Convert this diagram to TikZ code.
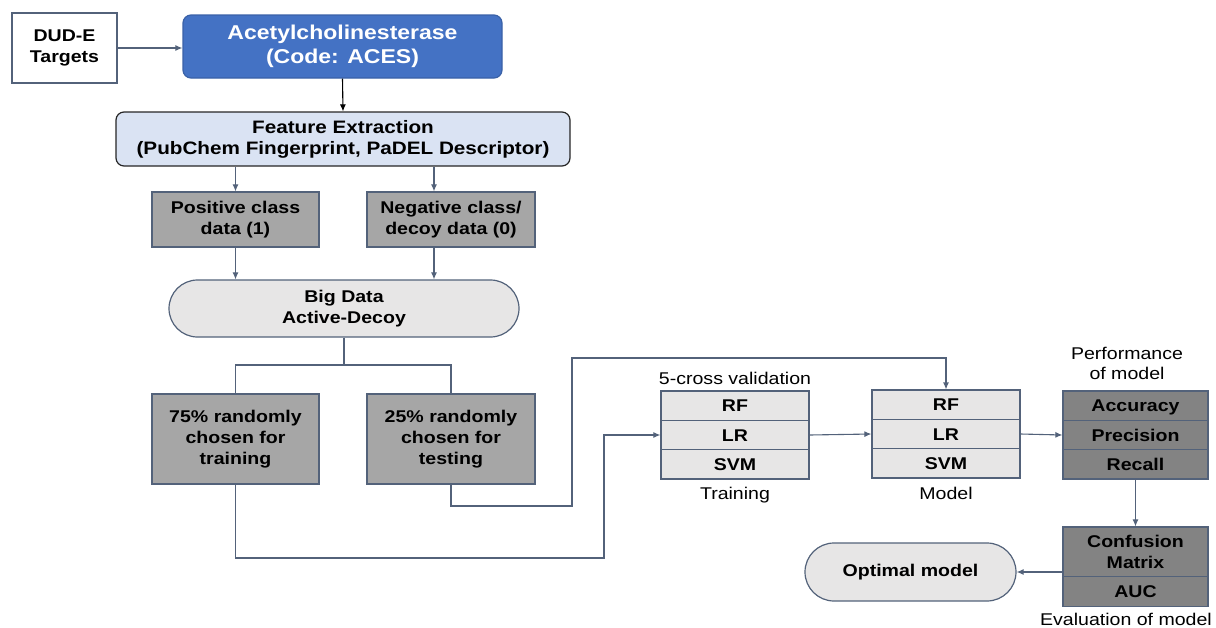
\documentclass[tikz,border=0pt]{standalone}
\usepackage{fontspec}
\setmainfont[FakeStretch=1.15]{Liberation Sans}
\usepackage{tikz}
\usetikzlibrary{arrows.meta}
\definecolor{edgeblue}{HTML}{53627A}
\definecolor{acesblue}{HTML}{4472C4}
\definecolor{featblue}{HTML}{DAE3F3}
\definecolor{midgray}{HTML}{A6A6A6}
\definecolor{darkgray2}{HTML}{838383}
\definecolor{palegray}{HTML}{E7E6E6}

\begin{document}
\begin{tikzpicture}[x=1pt, y=-1pt, line width=1.2pt,
  font=\fontsize{17}{21}\selectfont\bfseries,
  box/.style={draw=edgeblue, align=center, inner sep=0pt},
  graybox/.style={box, fill=midgray},
  rowbox/.style={box, fill=palegray, minimum width=148, minimum height=29.3,
                 text height=12.2pt, text depth=0pt},
  perfbox/.style={rowbox, fill=darkgray2, minimum width=145},
  lab/.style={font=\fontsize{17}{20}\selectfont\mdseries, align=center},
  link/.style={draw=edgeblue, line width=1.1pt},
  arr/.style={link, -{Latex[length=7pt,width=6pt]}}]

  \useasboundingbox (0,0) rectangle (1216,627);

  % left column: source, target, features, classes
  \node[box, fill=white, minimum width=105, minimum height=70] (dud) at (64.5,48) {DUD-E\\Targets};
  \node[box, draw=acesblue!85!black, fill=acesblue, text=white, rounded corners=8pt,
        minimum width=319, minimum height=63, font=\fontsize{20}{24}\selectfont\bfseries]
        (aces) at (342.5,46.5) {Acetylcholinesterase\\(Code: ACES)};
  \node[box, draw=black!85, fill=featblue, rounded corners=8pt, minimum width=454, minimum height=54,
        font=\fontsize{18}{21}\selectfont\bfseries]
        (feat) at (343,139) {Feature Extraction\\(PubChem Fingerprint, PaDEL Descriptor)};
  \node[graybox, minimum width=167, minimum height=55] (pos) at (235.5,219.5) {Positive class\\data (1)};
  \node[graybox, minimum width=168, minimum height=55] (neg) at (451,219.5) {Negative class/\\decoy data (0)};
  \node[box, fill=palegray, rounded corners=28.5pt, minimum width=350, minimum height=57]
        (big) at (344,308.5) {Big Data\\Active-Decoy};
  \node[graybox, minimum width=167, minimum height=90] (r75) at (235.5,439) {75\% randomly\\chosen for\\training};
  \node[graybox, minimum width=168, minimum height=90] (r25) at (451,439) {25\% randomly\\chosen for\\testing};

  % classifier stacks
  \foreach \nm/\yy in {RF/405.7, LR/435, SVM/464.3}{
    \node[rowbox] (tr\nm) at (735,\yy) {\nm};
    \node[rowbox] (md\nm) at (946,\yy-1) {\nm};
  }
  \foreach \nm/\lab/\yy in {Acc/Accuracy/405.7, Pre/Precision/435, Rec/Recall/464.3}{
    \node[perfbox] (pf\nm) at (1135.5,\yy) {\lab};
  }
  \node[box, fill=darkgray2, minimum width=145, minimum height=50] (evCM) at (1135.5,552) {Confusion\\Matrix};
  \node[perfbox] (evAUC) at (1135.5,591.5) {AUC};
  \node[box, fill=palegray, rounded corners=29pt, minimum width=211, minimum height=58]
        (opt) at (910.5,572) {Optimal model};

  \node[lab] (cvlab) at (735,378) {5-cross validation};
  \node[lab] (trlab) at (735,495) {Training};
  \node[lab] (mdlab) at (946,493) {Model};
  \node[lab] (pflab) at (1127,363) {Performance\\of model};
  \node[lab] (evlab) at (1126,619) {Evaluation of model};

  % connectors
  \draw[arr] (dud.east) -- (aces.west |- dud.east);
  \draw[arr, draw=black] (aces.south) -- (feat.north);
  \draw[arr] (pos.north |- feat.south) -- (pos.north);
  \draw[arr] ([xshift=-17pt]neg.north |- feat.south) -- ([xshift=-17pt]neg.north);
  \draw[arr] (pos.south) -- (pos.south |- big.north);
  \draw[arr] ([xshift=-17pt]neg.south) -- ([xshift=-17pt]neg.south |- big.north);

  \coordinate (split) at (344,365);
  \draw[link] (big.south) -- (split);
  \draw[link] (r75.north) |- (split) -| (r25.north);

  \coordinate (trainlow) at (604,558);
  \coordinate (testlow) at (572,506);
  \coordinate (testhigh) at (572,358);
  \draw[arr] (r75.south) |- (trainlow) |- (trLR.west);
  \draw[arr] (r25.south) |- (testlow) -- (testhigh) -| (mdRF.north);

  \draw[arr] (trLR.east) -- (mdLR.west);
  \draw[arr] (mdLR.east) -- (pfPre.west);
  \draw[arr] (pfRec.south) -- (evCM.north);
  \draw[arr] (opt.east -| evCM.west) -- (opt.east);

\end{tikzpicture}
\end{document}
